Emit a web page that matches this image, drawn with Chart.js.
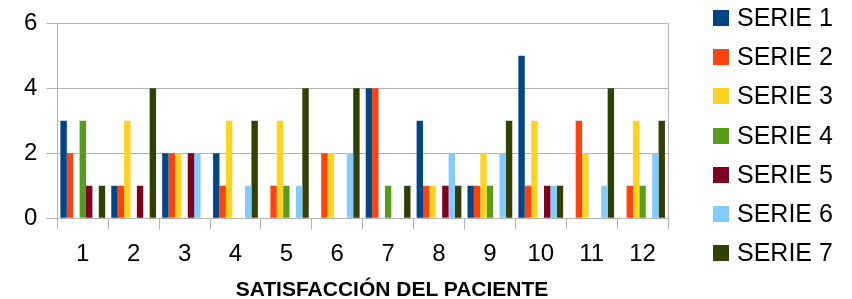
<!DOCTYPE html>
<html>
<head>
<meta charset="utf-8">
<script src="https://cdn.jsdelivr.net/npm/chart.js@4"></script>
<style>
html,body{margin:0;padding:0;background:#fff;}
#wrap{position:relative;width:852px;height:299px;overflow:hidden;}
#c{position:absolute;left:0;top:0;}
.leg{position:absolute;left:713px;font-family:"Liberation Sans",Arial,sans-serif;font-size:25px;color:#000;line-height:16px;white-space:nowrap;}
.leg span.box{display:inline-block;width:16px;height:16px;vertical-align:top;}
.leg span.txt{position:absolute;left:24px;top:-1px;}
#xtitle{position:absolute;left:392px;top:279.4px;transform:translateX(-50%);font-family:"Liberation Sans",Arial,sans-serif;font-weight:bold;font-size:21px;line-height:20px;color:#000;white-space:nowrap;}
</style>
</head>
<body>
<div id="wrap">
<canvas id="c" width="852" height="299"></canvas>
<div id="legend"></div>
<div id="xtitle"></div>
</div>
<script>
const categories = ["1","2","3","4","5","6","7","8","9","10","11","12"];
const seriesNames = ["SERIE 1","SERIE 2","SERIE 3","SERIE 4","SERIE 5","SERIE 6","SERIE 7"];
const serie1 = [3,1,2,2,0,0,4,3,1,5,0,0];
const serie2 = [2,1,2,1,1,2,4,1,1,1,3,1];
const serie3 = [0,3,2,3,3,2,0,1,2,3,2,3];
const serie4 = [3,0,0,0,1,0,1,0,1,0,0,1];
const serie5 = [1,1,2,0,0,0,0,1,0,1,0,0];
const serie6 = [0,0,2,1,1,2,0,2,2,1,1,2];
const serie7 = [1,4,0,3,4,4,1,1,3,1,4,3];
const yTicks = [0,2,4,6];
const colors = ["#004586","#ff420e","#ffd320","#579d1c","#7e0021","#83caff","#314004"];
const axisTitle = "SATISFACCIÓN DEL PACIENTE";

const allSeries = [serie1,serie2,serie3,serie4,serie5,serie6,serie7];
const datasets = allSeries.map((d,i)=>({
  label: seriesNames[i], data: d, backgroundColor: colors[i],
  borderWidth: 0, categoryPercentage: 0.88, barPercentage: 1.0
}));

document.getElementById('xtitle').textContent = axisTitle;
const legendEl = document.getElementById('legend');
seriesNames.forEach((n,i)=>{
  const d = document.createElement('div');
  d.className='leg';
  d.style.top = (10 + i*39.2) + 'px';
  d.innerHTML = '<span class="box" style="background:'+colors[i]+'"></span><span class="txt">'+n+'</span>';
  legendEl.appendChild(d);
});

const gridColor = "#b3b3b3";
const rightBorder = {
  id:'rightBorder',
  afterDatasetsDraw(chart){
    const a = chart.chartArea, ctx = chart.ctx;
    ctx.save();
    ctx.strokeStyle = gridColor; ctx.lineWidth = 1;
    ctx.beginPath(); ctx.moveTo(Math.round(a.right)+0.5, a.top); ctx.lineTo(Math.round(a.right)+0.5, a.bottom); ctx.stroke();
    ctx.restore();
  }
};

new Chart(document.getElementById('c'), {
  type: 'bar',
  data: { labels: categories, datasets },
  options: {
    responsive: false, animation: false,
    layout: { padding: { left: 15, right: 184, top: 8, bottom: 19 } },
    plugins: { legend: { display: false }, tooltip: { enabled: false } },
    scales: {
      x: {
        grid: { display: true, drawOnChartArea: false, drawTicks: true, tickLength: 11, color: gridColor, offset: true },
        border: { display: true, color: gridColor },
        ticks: { color: "#000", font: { family: "Liberation Sans", size: 24, lineHeight: 1.2 }, padding: 11, maxRotation: 0 }
      },
      y: {
        min: 0, max: 6,
        afterBuildTicks(axis){ axis.ticks = yTicks.map(v=>({value:v})); },
        grid: { color: gridColor, tickLength: 11, drawTicks: true },
        border: { display: true, color: gridColor },
        ticks: { color: "#000", font: { family: "Liberation Sans", size: 24 }, padding: 9 }
      }
    }
  },
  plugins: [rightBorder]
});
</script>
</body>
</html>
